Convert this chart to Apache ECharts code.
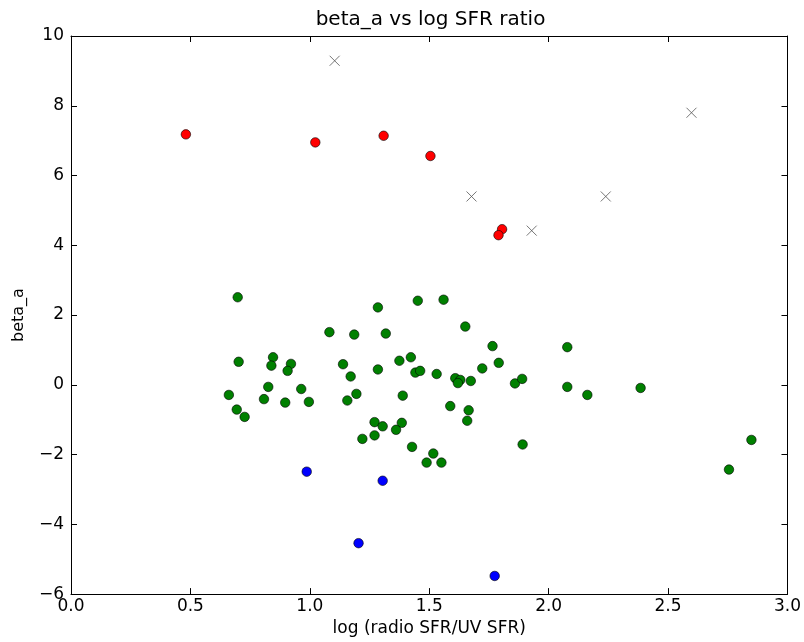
<!DOCTYPE html>
<html>
<head>
<meta charset="utf-8">
<script src="https://cdn.jsdelivr.net/npm/echarts@6/dist/echarts.min.js"></script>
<style>
  html, body { margin: 0; padding: 0; background: #fff; }
  #main { width: 804px; height: 642px; }
</style>
</head>
<body>
<div id="main"></div>
<script>
// 数据: [log(radio SFR/UV SFR), beta_a]
var greenPts = [
  [0.698, 2.51], [0.702, 0.66], [0.661, -0.29], [0.694, -0.71], [0.727, -0.92],
  [0.826, -0.06], [0.808, -0.41], [0.846, 0.79], [0.839, 0.55], [0.921, 0.60],
  [0.907, 0.40], [0.897, -0.51], [0.964, -0.12], [0.996, -0.49], [1.082, 1.51],
  [1.285, 2.22], [1.452, 2.41], [1.560, 2.44], [1.186, 1.44], [1.318, 1.47],
  [1.651, 1.67], [1.765, 1.11], [1.139, 0.59], [1.171, 0.24], [1.285, 0.44],
  [1.375, 0.69], [1.423, 0.79], [1.442, 0.35], [1.462, 0.40], [1.531, 0.31],
  [1.609, 0.19], [1.630, 0.14], [1.620, 0.05], [1.674, 0.11], [1.722, 0.47],
  [1.791, 0.63], [1.859, 0.04], [1.889, 0.17], [1.195, -0.26], [1.157, -0.45],
  [1.389, -0.31], [1.588, -0.61], [1.665, -0.73], [1.659, -1.03], [1.271, -1.07],
  [1.305, -1.19], [1.385, -1.09], [1.361, -1.29], [1.271, -1.45], [1.220, -1.55],
  [1.428, -1.78], [1.517, -1.97], [1.489, -2.23], [1.551, -2.23], [1.891, -1.71],
  [2.078, 1.08], [2.078, -0.06], [2.162, -0.29], [2.385, -0.09], [2.755, -2.43],
  [2.849, -1.58]
];
var redPts = [
  [0.481, 7.18], [1.023, 6.95], [1.309, 7.14], [1.505, 6.56], [1.805, 4.46], [1.790, 4.29]
];
var bluePts = [
  [0.987, -2.49], [1.305, -2.75], [1.204, -4.54], [1.774, -5.48]
];
var crossPts = [
  [1.104, 9.29], [2.598, 7.80], [1.677, 5.40], [2.239, 5.40], [1.929, 4.42]
];
var titleText = 'beta_a vs log SFR ratio';

var myChart = echarts.init(document.getElementById('main'));
var fontFam = 'DejaVu Sans';
var lineStyle = { color: '#000', width: 1 };

function dot(name, data, color) {
  return {
    name: name,
    type: 'scatter',
    data: data,
    symbol: 'circle',
    symbolSize: 9.5,
    silent: true,
    itemStyle: { color: color, borderColor: '#000', borderWidth: 0.6, opacity: 1 }
  };
}

var option = {
  backgroundColor: '#fff',
  animation: false,
  // 标题居中于绘图区
  graphic: [{
    type: 'text',
    x: 430.5,
    y: 20,
    silent: true,
    style: {
      text: titleText,
      font: '20px "DejaVu Sans"',
      fill: '#000',
      align: 'center',
      verticalAlign: 'middle'
    }
  }],
  grid: { left: 71, top: 36, width: 719, height: 560 },
  xAxis: [{
    type: 'value',
    min: 0, max: 3, interval: 0.5,
    name: 'log (radio SFR/UV SFR)',
    nameLocation: 'middle',
    nameGap: 25,
    nameTextStyle: { fontFamily: fontFam, fontSize: 17, color: '#000' },
    axisLine: { show: true, onZero: false, lineStyle: lineStyle },
    axisTick: { show: true, inside: true, length: 6, lineStyle: lineStyle },
    axisLabel: {
      fontFamily: fontFam, fontSize: 17, color: '#000', margin: 4,
      formatter: function (v) { return v.toFixed(1); }
    },
    splitLine: { show: false }
  }, {
    type: 'value',
    position: 'top',
    min: 0, max: 3, interval: 0.5,
    axisLine: { show: true, onZero: false, lineStyle: lineStyle },
    axisTick: { show: true, inside: true, length: 6, lineStyle: lineStyle },
    axisLabel: { show: false },
    splitLine: { show: false }
  }],
  yAxis: [{
    type: 'value',
    min: -6, max: 10, interval: 2,
    name: 'beta_a',
    nameLocation: 'middle',
    nameGap: 44,
    nameRotate: 90,
    nameTextStyle: { fontFamily: fontFam, fontSize: 16, color: '#000' },
    axisLine: { show: true, onZero: false, lineStyle: lineStyle },
    axisTick: { show: true, inside: true, length: 6, lineStyle: lineStyle },
    axisLabel: {
      fontFamily: fontFam, fontSize: 17, color: '#000', margin: 7,
      formatter: function (v) { return v < 0 ? '\u2212' + Math.abs(v) : String(v); }
    },
    splitLine: { show: false }
  }, {
    type: 'value',
    position: 'right',
    min: -6, max: 10, interval: 2,
    axisLine: { show: true, onZero: false, lineStyle: lineStyle },
    axisTick: { show: true, inside: true, length: 6, lineStyle: lineStyle },
    axisLabel: { show: false },
    splitLine: { show: false }
  }],
  series: [
    dot('green', greenPts, '#008000'),
    dot('red', redPts, '#ff0000'),
    dot('blue', bluePts, '#0000ff'),
    {
      name: 'cross',
      type: 'scatter',
      data: crossPts,
      symbol: 'path://M0,0L10,10M10,0L0,10',
      symbolSize: 10,
      silent: true,
      itemStyle: { color: 'none', borderColor: '#555', borderWidth: 1 }
    }
  ]
};
myChart.setOption(option);
</script>
</body>
</html>
